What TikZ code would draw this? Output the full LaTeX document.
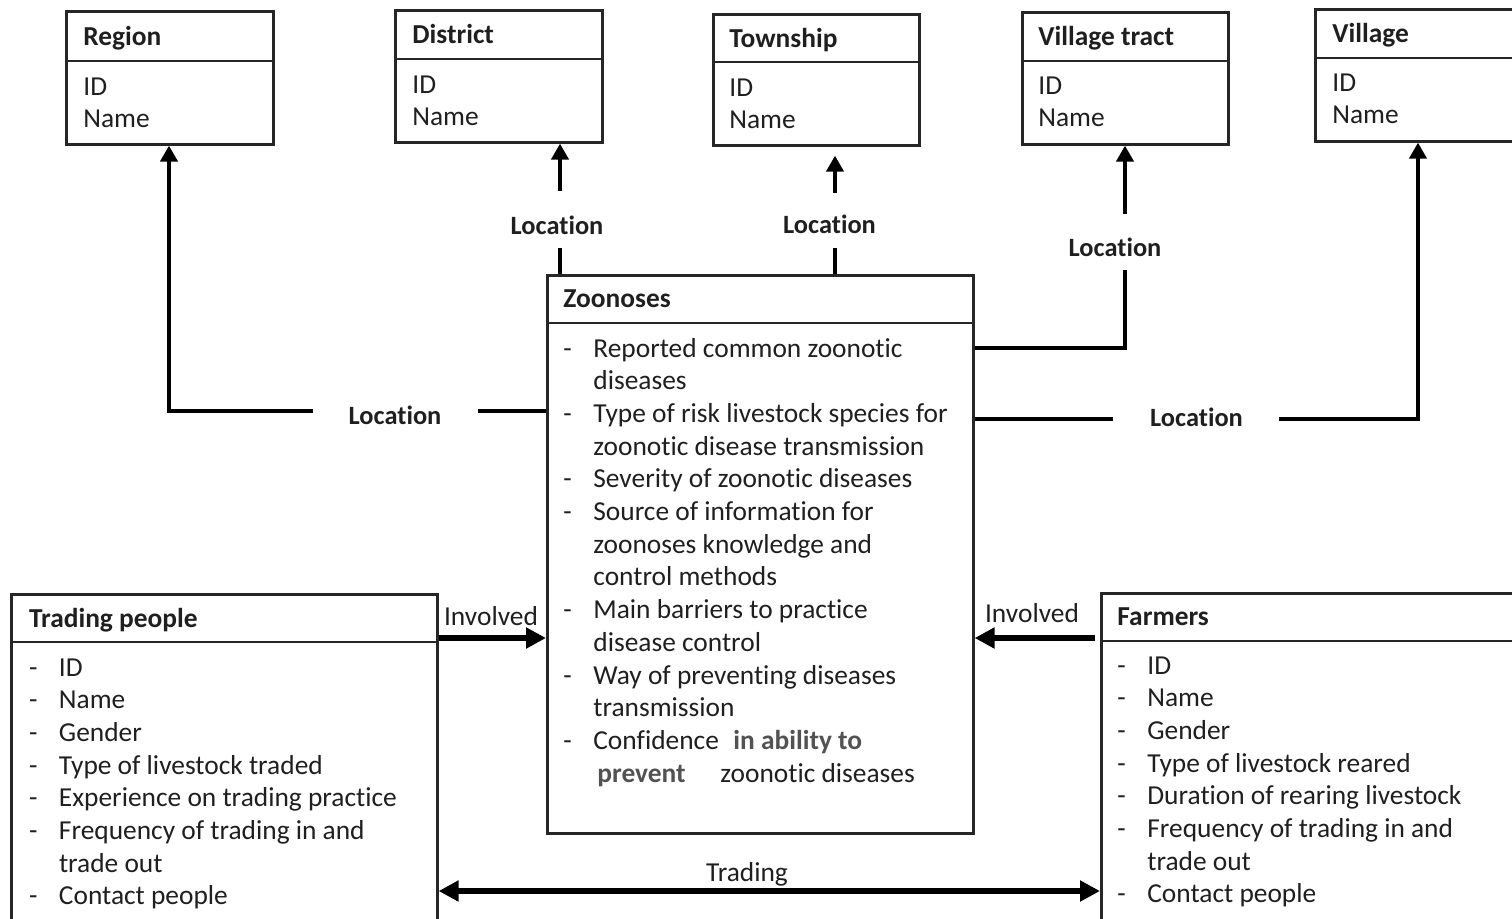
\documentclass[tikz,border=0pt]{standalone}
\usepackage{fontspec}
\setmainfont{Carlito}[Ligatures={NoCommon}]
\usetikzlibrary{arrows.meta,calc}

% list helpers: a dash in a fixed-width slot, and the matching hanging indent
\newcommand\itemdash{\makebox[15pt][l]{-}}
\newcommand\itemgap{\hspace*{15pt}}
\newcommand\attrlist[1]{\begin{tabular}[t]{@{}l@{}}#1\end{tabular}}

\begin{document}
\begin{tikzpicture}[x=0.5pt,y=-0.5pt,
  font=\fontsize{13.7}{16.35}\selectfont,
  every node/.style={text=black!88},
  entity/.style={draw=black!85, line width=1.3pt, rectangle, anchor=north west, inner sep=0pt},
  divider/.style={draw=black!85, line width=1.3pt},
  title/.style={font=\fontsize{13.7}{16.35}\selectfont\bfseries, anchor=base west, inner sep=0pt},
  attr/.style={anchor=base west, inner sep=0pt},
  rel/.style={font=\fontsize{13.2}{16}\selectfont\bfseries, anchor=base, inner sep=0pt},
  note/.style={font=\fontsize{13.7}{16.35}\selectfont, anchor=base, inner sep=0pt},
  link/.style={line width=2.4pt},
  linkarrow/.style={link, -{Triangle[length=8pt,width=8.5pt]}},
  flowline/.style={line width=3pt},
  flowarrow/.style={flowline, -{Triangle[length=10pt,width=10pt]}},
  botharrow/.style={flowline, {Triangle[length=10pt,width=10pt]}-{Triangle[length=10pt,width=10pt]}},
]
\useasboundingbox (0,0) rectangle (1512,918);
\clip (0,0) rectangle (1512,918);

% ---------- location entities ----------
\node[entity, minimum width=103.5pt, minimum height=66.5pt] (region) at (65,10) {};
\draw[divider] (65,61) -- (272,61);
\node[title] (regiont) at (83,45) {Region};
\node[attr] (regiona) at (83,95) {\attrlist{ID\\Name}};

\node[entity, minimum width=103.5pt, minimum height=66pt] (district) at (394,9) {};
\draw[divider] (394,59) -- (601,59);
\node[title] (districtt) at (412,43) {District};
\node[attr] (districta) at (412,93) {\attrlist{ID\\Name}};

\node[entity, minimum width=103pt, minimum height=65.5pt] (township) at (712,13) {};
\draw[divider] (712,62) -- (918,62);
\node[title] (townshipt) at (729,47) {Township};
\node[attr] (townshipa) at (729,96) {\attrlist{ID\\Name}};

\node[entity, minimum width=103pt, minimum height=66pt] (vtract) at (1021,11) {};
\draw[divider] (1021,61) -- (1227,61);
\node[title] (vtractt) at (1038,45) {Village tract};
\node[attr] (vtracta) at (1038,94) {\attrlist{ID\\Name}};

\node[entity, minimum width=120pt, minimum height=66pt] (village) at (1314,8) {};
\draw[divider] (1314,58) -- (1560,58);
\node[title] (villaget) at (1332,42) {Village};
\node[attr] (villagea) at (1332,91) {\attrlist{ID\\Name}};

% ---------- central entity ----------
\node[entity, minimum width=213pt, minimum height=279pt] (zoo) at (546,274) {};
\draw[divider] (546,323) -- (972,323);
\node[title] (zoot) at (563,307) {Zoonoses};
\node[attr] (zooa) at (563,357) {\attrlist{%
\itemdash Reported common zoonotic\\
\itemgap diseases\\
\itemdash Type of risk livestock species for\\
\itemgap zoonotic disease transmission\\
\itemdash Severity of zoonotic diseases\\
\itemdash Source of information for\\
\itemgap zoonoses knowledge and\\
\itemgap control methods\\
\itemdash Main barriers to practice\\
\itemgap disease control\\
\itemdash Way of preventing diseases\\
\itemgap transmission\\
\itemdash \makebox[70pt][l]{Confidence}{\color{black!68}\bfseries in ability to}\\
\itemgap \makebox[63.5pt][l]{\hspace{2pt}{\color{black!68}\bfseries prevent}}zoonotic diseases}};

% ---------- people entities ----------
\node[entity, minimum width=213pt, minimum height=173.5pt] (trading) at (10,593) {};
\draw[divider] (10,642) -- (436,642);
\node[title] (tradingt) at (28.6,627) {Trading people};
\node[attr] (tradinga) at (28.6,676) {\attrlist{%
\itemdash ID\\
\itemdash Name\\
\itemdash Gender\\
\itemdash Type of livestock traded\\
\itemdash Experience on trading practice\\
\itemdash Frequency of trading in and\\
\itemgap trade out\\
\itemdash Contact people}};

\node[entity, minimum width=240pt, minimum height=174pt] (farmers) at (1100,592) {};
\draw[divider] (1100,641) -- (1600,641);
\node[title] (farmerst) at (1117,625) {Farmers};
\node[attr] (farmersa) at (1117,674) {\attrlist{%
\itemdash ID\\
\itemdash Name\\
\itemdash Gender\\
\itemdash Type of livestock reared\\
\itemdash Duration of rearing livestock\\
\itemdash Frequency of trading in and\\
\itemgap trade out\\
\itemdash Contact people}};

% ---------- relationship labels ----------
\node[rel] (locr) at (395,424) {Location};
\node[rel] (locd) at (557,234) {Location};
\node[rel] (loct) at (829.5,233) {Location};
\node[rel] (locvt) at (1115,256) {Location};
\node[rel] (locv) at (1196.5,426) {Location};
\node[note] (invl) at (491,625) {Involved};
\node[note] (invr) at (1032,622) {Involved};
\node[note] (trade) at (747,881) {Trading};

% ---------- connector bend and gap points ----------
\coordinate (r0) at (478,411);
\coordinate (r1) at (313,411);
\coordinate (r2) at (169,411);
\coordinate (d1) at (560,248);
\coordinate (d2) at (560,191);
\coordinate (t1) at (835,248);
\coordinate (t2) at (835,193);
\coordinate (vt0) at (1125,348);
\coordinate (vt1) at (1125,270);
\coordinate (vt2) at (1125,214);
\coordinate (g0) at (1113,419);
\coordinate (g1) at (1279,419);
\coordinate (g2) at (1418,419);
\coordinate (inv) at (0,638);
\coordinate (tr) at (0,891);

% ---------- location links ----------
\draw[link] (zoo.west |- r0) -- (r0);
\draw[linkarrow] (r1) -- (r2) -- (region.south -| r2);

\draw[link] (zoo.north -| d1) -- (d1);
\draw[linkarrow] (d2) -- (district.south -| d2);

\draw[link] (zoo.north -| t1) -- (t1);
\draw[linkarrow, shorten >=4.5pt] (t2) -- (township.south -| t2);

\draw[link] (zoo.east |- vt0) -- (vt0) -- (vt1);
\draw[linkarrow] (vt2) -- (vtract.south -| vt2);

\draw[link] (zoo.east |- g0) -- (g0);
\draw[linkarrow] (g1) -- (g2) -- (village.south -| g2);

% ---------- people links ----------
\draw[flowarrow] (trading.east |- inv) -- (zoo.west |- inv);
\draw[flowarrow] ([xshift=-2.5pt]farmers.west |- inv) -- (zoo.east |- inv);
\draw[botharrow] (trading.east |- tr) -- (farmers.west |- tr);

\end{tikzpicture}
\end{document}
